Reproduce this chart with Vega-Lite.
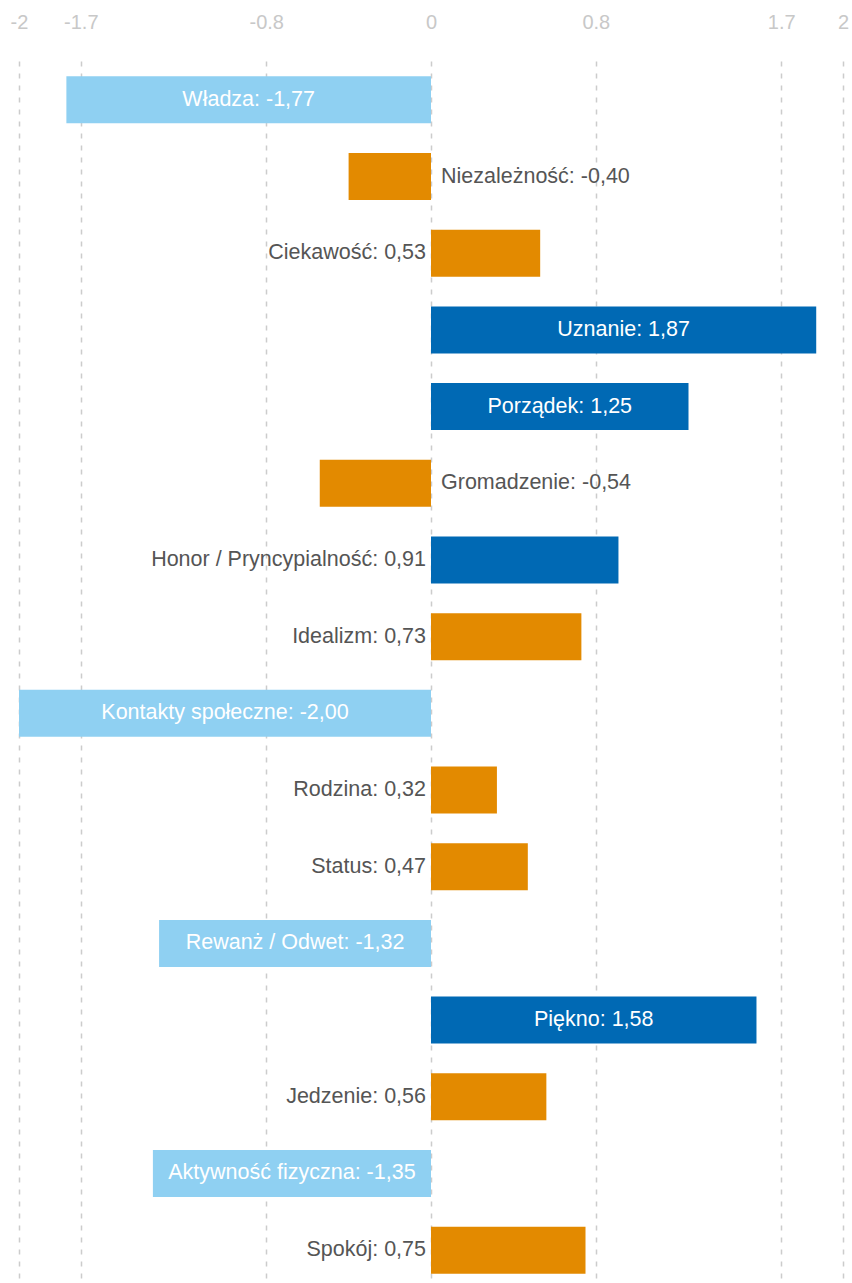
{
  "$schema": "https://vega.github.io/schema/vega-lite/v6.json",
  "width": 824,
  "height": 1228,
  "autosize": {"type": "none"},
  "padding": {"left": 19, "top": 61, "right": 9, "bottom": 0},
  "background": "white",
  "config": {
    "view": {"stroke": null},
    "font": "Liberation Sans",
    "text": {"font": "Liberation Sans"}
  },
  "data": {
    "values": [
      {"name": "Władza", "value": -1.77, "label": "Władza: -1,77", "group": "low"},
      {"name": "Niezależność", "value": -0.40, "label": "Niezależność: -0,40", "group": "mid"},
      {"name": "Ciekawość", "value": 0.53, "label": "Ciekawość: 0,53", "group": "mid"},
      {"name": "Uznanie", "value": 1.87, "label": "Uznanie: 1,87", "group": "high"},
      {"name": "Porządek", "value": 1.25, "label": "Porządek: 1,25", "group": "high"},
      {"name": "Gromadzenie", "value": -0.54, "label": "Gromadzenie: -0,54", "group": "mid"},
      {"name": "Honor / Pryncypialność", "value": 0.91, "label": "Honor / Pryncypialność: 0,91", "group": "high"},
      {"name": "Idealizm", "value": 0.73, "label": "Idealizm: 0,73", "group": "mid"},
      {"name": "Kontakty społeczne", "value": -2.00, "label": "Kontakty społeczne: -2,00", "group": "low"},
      {"name": "Rodzina", "value": 0.32, "label": "Rodzina: 0,32", "group": "mid"},
      {"name": "Status", "value": 0.47, "label": "Status: 0,47", "group": "mid"},
      {"name": "Rewanż / Odwet", "value": -1.32, "label": "Rewanż / Odwet: -1,32", "group": "low"},
      {"name": "Piękno", "value": 1.58, "label": "Piękno: 1,58", "group": "high"},
      {"name": "Jedzenie", "value": 0.56, "label": "Jedzenie: 0,56", "group": "mid"},
      {"name": "Aktywność fizyczna", "value": -1.35, "label": "Aktywność fizyczna: -1,35", "group": "low"},
      {"name": "Spokój", "value": 0.75, "label": "Spokój: 0,75", "group": "mid"}
    ]
  },
  "encoding": {
    "y": {
      "field": "name",
      "type": "nominal",
      "sort": null,
      "axis": null,
      "scale": {"paddingInner": 0.387, "paddingOuter": 0.2}
    }
  },
  "layer": [
    {
      "mark": {"type": "bar"},
      "encoding": {
        "x": {
          "field": "value",
          "type": "quantitative",
          "scale": {"domain": [-2, 2], "nice": false},
          "axis": {
            "orient": "top",
            "title": null,
            "values": [-2, -1.7, -0.8, 0, 0.8, 1.7, 2],
            "labelExpr": "datum.value + ''",
            "grid": true,
            "gridColor": "#cccccc",
            "gridDash": [5, 7],
            "gridWidth": 1.5,
            "domain": false,
            "ticks": false,
            "labelFlush": false,
            "labelFontSize": 20,
            "labelColor": "#c8c8c8",
            "labelFont": "Liberation Sans",
            "labelPadding": 29
          }
        },
        "x2": {"datum": 0},
        "color": {
          "field": "group",
          "type": "nominal",
          "scale": {"domain": ["low", "mid", "high"], "range": ["#8fd0f2", "#e38a00", "#0069b4"]},
          "legend": null
        }
      }
    },
    {
      "transform": [
        {"filter": "abs(datum.value) > 1"},
        {"calculate": "datum.value / 2", "as": "mid"}
      ],
      "mark": {"type": "text", "align": "center", "baseline": "middle", "fontSize": 21.5, "color": "white"},
      "encoding": {
        "x": {"field": "mid", "type": "quantitative"},
        "text": {"field": "label"}
      }
    },
    {
      "transform": [{"filter": "abs(datum.value) <= 1 && datum.value < 0"}],
      "mark": {"type": "text", "align": "left", "baseline": "middle", "fontSize": 21.5, "color": "#555555", "dx": 10},
      "encoding": {
        "x": {"datum": 0},
        "text": {"field": "label"}
      }
    },
    {
      "transform": [{"filter": "abs(datum.value) <= 1 && datum.value > 0"}],
      "mark": {"type": "text", "align": "right", "baseline": "middle", "fontSize": 21.5, "color": "#555555", "dx": -5},
      "encoding": {
        "x": {"datum": 0},
        "text": {"field": "label"}
      }
    }
  ]
}
